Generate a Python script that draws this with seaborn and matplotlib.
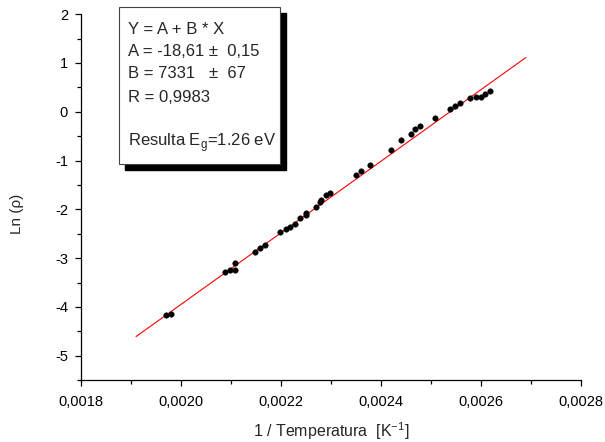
import matplotlib
matplotlib.use("Agg")
import matplotlib.pyplot as plt
import matplotlib.patches as mpatches
from matplotlib.ticker import MultipleLocator, FuncFormatter
import seaborn as sns
import pandas as pd

# data
inv_temp = [0.001969, 0.001979, 0.002089, 0.002098, 0.002109, 0.002109,
            0.002148, 0.002158, 0.002169, 0.002199, 0.002210, 0.002219,
            0.002229, 0.002239, 0.002250, 0.002250, 0.002270, 0.002279,
            0.002281, 0.002290, 0.002299, 0.002350, 0.002360, 0.002379,
            0.002420, 0.002440, 0.002460, 0.002469, 0.002479, 0.002509,
            0.002539, 0.002549, 0.002559, 0.002579, 0.002590, 0.002600,
            0.002609, 0.002619]
ln_rho = [-4.17, -4.15, -3.29, -3.24, -3.24, -3.11,
          -2.87, -2.79, -2.74, -2.46, -2.41, -2.37,
          -2.30, -2.17, -2.07, -2.12, -1.95, -1.84,
          -1.80, -1.71, -1.67, -1.30, -1.22, -1.09,
          -0.79, -0.58, -0.46, -0.35, -0.29, -0.12,
          0.05, 0.11, 0.18, 0.29, 0.31, 0.30,
          0.36, 0.42]

# linear fit shown in the box
fit_a = -18.61
fit_b = 7331
fit_x = [0.00191, 0.00269]

box_lines = ["Y = A + B * X", "A = -18,61 \u00b1  0,15", "B = 7331   \u00b1  67",
             "R = 0,9983", "Resulta E$_\\mathregular{g}$=1.26 eV"]

df = pd.DataFrame({"x": inv_temp, "y": ln_rho})
fit = pd.DataFrame({"x": fit_x, "y": [fit_a + fit_b * v for v in fit_x]})

sns.set_style("ticks")
plt.rcParams["font.family"] = ["Liberation Sans", "DejaVu Sans"]
plt.rcParams["mathtext.fontset"] = "custom"
plt.rcParams["mathtext.rm"] = "Liberation Sans"

fig = plt.figure(figsize=(6.05, 4.42), dpi=100)
ax = fig.add_axes([0.134, 0.140, 0.826, 0.828])

sns.lineplot(data=fit, x="x", y="y", color="red", linewidth=0.8, ax=ax)
sns.scatterplot(data=df, x="x", y="y", color="black", s=16, edgecolor="black",
                linewidth=0.3, ax=ax, zorder=3)

ax.set_xlim(0.0018, 0.0028)
ax.set_ylim(-5.5, 2)
ax.xaxis.set_major_locator(MultipleLocator(0.0002))
ax.xaxis.set_minor_locator(MultipleLocator(0.0001))
ax.yaxis.set_major_locator(MultipleLocator(1))
ax.yaxis.set_minor_locator(MultipleLocator(0.5))
ax.xaxis.set_major_formatter(FuncFormatter(lambda v, p: f"{v:.4f}".replace(".", ",")))
ax.yaxis.set_major_formatter(FuncFormatter(lambda v, p: f"{v:.0f}"))
ax.tick_params(which="major", length=4.5, width=0.9, labelsize=10.5, color="black", labelcolor="black")
ax.tick_params(axis="y", which="major", pad=5)
ax.tick_params(axis="x", which="major", pad=6)
ax.tick_params(which="minor", length=3, width=0.9, color="black")
for s in ["left", "bottom"]:
    ax.spines[s].set_color("black")
    ax.spines[s].set_linewidth(0.9)
sns.despine(ax=ax)

ax.set_xlabel("1 / Temperatura  [K$^\\mathregular{-1}$]", fontsize=11.5, labelpad=8)
ax.set_ylabel("Ln (\u03c1)", fontsize=11)
ax.yaxis.set_label_coords(-0.115, 0.454)

# text box with drop shadow
bx0, bx1, by0, by1 = 119 / 605, 280 / 605, 1 - 164 / 442, 1 - 7 / 442
fig.patches.append(mpatches.Rectangle((bx0 + 6 / 605, by0 - 6 / 442), bx1 - bx0, by1 - by0,
                                      transform=fig.transFigure, facecolor="black",
                                      edgecolor="black", zorder=5))
fig.patches.append(mpatches.Rectangle((bx0, by0), bx1 - bx0, by1 - by0,
                                      transform=fig.transFigure, facecolor="white",
                                      edgecolor="#444444", linewidth=0.8, zorder=6))
line_y = [30, 52, 74, 97, 143]
for txt, py in zip(box_lines, line_y):
    fig.text(128 / 605, 1 - py / 442, txt, fontsize=12, va="center", ha="left", zorder=7)

fig.savefig("out.png", dpi=100)
